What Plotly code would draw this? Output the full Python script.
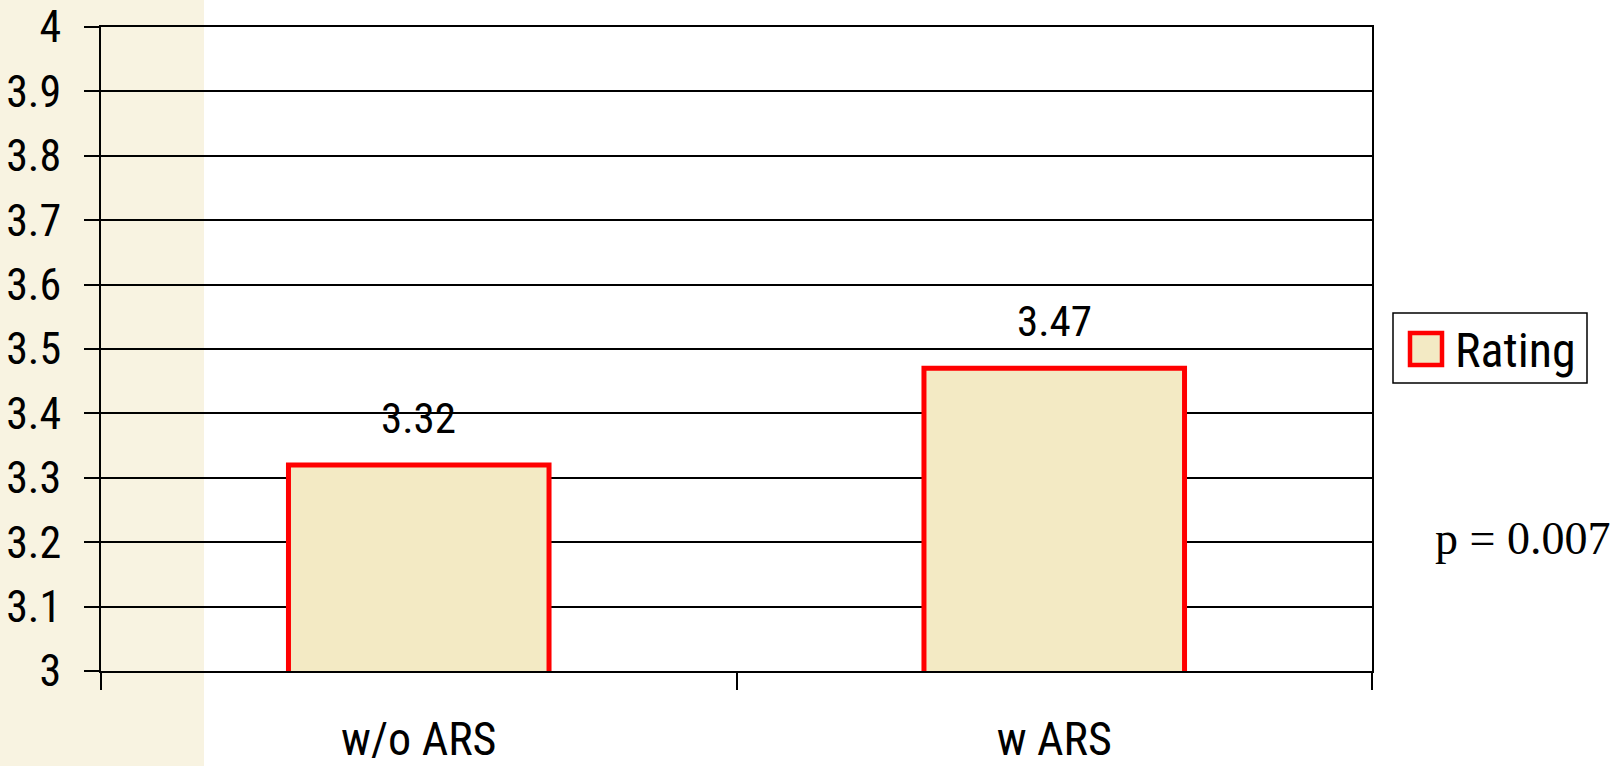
import plotly.graph_objects as go

categories = ["w/o ARS", "w ARS"]
ratings = [3.32, 3.47]
series_name = "Rating"
y_ticks = [3.0, 3.1, 3.2, 3.3, 3.4, 3.5, 3.6, 3.7, 3.8, 3.9, 4.0]
y_tick_labels = ["3", "3.1", "3.2", "3.3", "3.4", "3.5", "3.6", "3.7", "3.8", "3.9", "4"]
p_text = "p = 0.007"

NARROW = "Liberation Sans Narrow, Arial Narrow, Roboto Condensed, Liberation Sans, sans-serif"
FILL = "#F3EAC4"
EDGE = "#FF0000"

W, H = 1620, 766
L, R, T, B = 101, 248, 27, 95
PW = W - L - R
PH = H - T - B

def px_x(px):
    return (px - L) / PW

def px_y(py):
    return (H - B - py) / PH

fig = go.Figure()
fig.add_trace(go.Bar(
    x=categories, y=ratings, name=series_name,
    marker=dict(color=FILL, line=dict(color=EDGE, width=5)),
    width=0.41, showlegend=False, hoverinfo="x+y",
))

for c, v in zip(categories, ratings):
    fig.add_annotation(x=c, y=v, text=f"{v:.2f}", showarrow=False,
                       yanchor="bottom", yshift=20,
                       font=dict(family=NARROW, size=43, color="black"))

# textured left strip (approximated by flat beige)
fig.add_shape(type="rect", xref="paper", yref="paper",
              x0=px_x(0), x1=px_x(204), y0=px_y(H), y1=px_y(0),
              fillcolor="#F8F3E1", line=dict(width=0), layer="below")

# manual legend
fig.add_shape(type="rect", xref="paper", yref="paper",
              x0=px_x(1393), x1=px_x(1587), y0=px_y(383), y1=px_y(313),
              fillcolor="white", line=dict(color="black", width=1.5))
fig.add_shape(type="rect", xref="paper", yref="paper",
              x0=px_x(1410), x1=px_x(1442), y0=px_y(365), y1=px_y(333),
              fillcolor=FILL, line=dict(color=EDGE, width=4.5))
fig.add_annotation(xref="paper", yref="paper", x=px_x(1453), y=px_y(350),
                   xanchor="left", yanchor="middle", showarrow=False,
                   text=series_name, font=dict(family=NARROW, size=48, color="black"))

fig.add_annotation(xref="paper", yref="paper", x=px_x(1522), y=px_y(538),
                   xanchor="center", yanchor="middle", showarrow=False,
                   text=p_text, font=dict(family="Liberation Serif, Times New Roman, serif",
                                           size=46, color="black"))

fig.update_layout(
    width=W, height=H,
    margin=dict(l=L, r=R, t=T, b=B, pad=0),
    paper_bgcolor="white", plot_bgcolor="rgba(0,0,0,0)",
    showlegend=False,
    bargap=0.59,
    xaxis=dict(
        type="category", tickson="boundaries", ticks="outside", ticklen=17,
        tickwidth=2, tickcolor="black", showline=True, linecolor="black",
        linewidth=2, mirror=True, showgrid=False, ticklabelstandoff=27,
        tickfont=dict(family=NARROW, size=46, color="black"),
        range=[-0.5, 1.5], automargin=False,
    ),
    yaxis=dict(
        range=[3, 4], tickvals=y_ticks, ticktext=y_tick_labels,
        ticks="outside", ticklen=15, tickwidth=2, tickcolor="black",
        showline=True, linecolor="black", linewidth=2, mirror=True,
        showgrid=True, gridcolor="black", gridwidth=1.5, zeroline=False,
        ticklabelstandoff=14, automargin=False,
        tickfont=dict(family=NARROW, size=44, color="black"),
    ),
)

fig.write_html(
    "out.html",
    config={"displayModeBar": False},
    post_script="document.body.style.margin='0';document.body.style.overflow='hidden';",
)
